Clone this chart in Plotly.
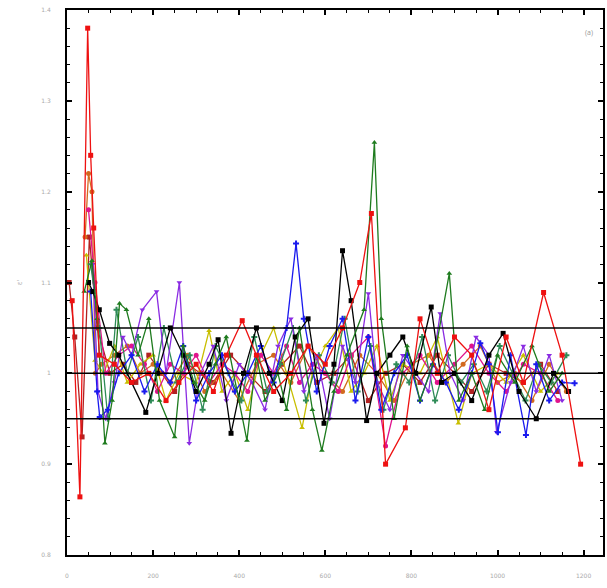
import plotly.graph_objects as go

# ---- data ----
red_x = [12, 30, 48, 55, 62, 75, 110, 150, 190, 230, 260, 300, 340, 370, 407, 440, 480, 520, 560, 600, 640, 680, 707, 740, 786, 820, 860, 900, 940, 980, 1020, 1060, 1107, 1150, 1193]
red_y = [1.08, 0.864, 1.38, 1.24, 1.16, 1.02, 1.01, 0.99, 1.0, 0.97, 0.99, 1.01, 0.98, 1.02, 1.058, 1.02, 0.98, 1.0, 1.03, 1.01, 1.05, 1.1, 1.176, 0.90, 0.94, 1.06, 1.0, 1.04, 1.02, 0.96, 1.04, 0.99, 1.089, 1.02, 0.90]

green_x = [40, 58, 70, 88, 105, 122, 138, 165, 190, 215, 250, 270, 295, 320, 345, 370, 418, 440, 460, 490, 510, 540, 570, 592, 620, 650, 690, 714, 730, 760, 790, 820, 850, 888, 910, 940, 970, 1000, 1040, 1080, 1120, 1150]
green_y = [1.09, 1.124, 1.06, 0.923, 0.97, 1.077, 1.07, 1.02, 1.06, 0.97, 0.93, 1.03, 0.99, 0.97, 1.01, 1.04, 0.926, 1.02, 0.97, 1.0, 0.96, 1.05, 0.96, 0.915, 0.98, 1.02, 1.07, 1.254, 1.06, 0.95, 1.03, 0.97, 1.01, 1.11, 0.97, 1.0, 0.96, 1.02, 0.99, 1.03, 0.98, 1.0]

black_x = [50, 60, 75, 99, 120, 150, 183, 210, 240, 270, 300, 330, 351, 381, 410, 440, 470, 500, 530, 560, 597, 620, 640, 660, 696, 720, 750, 780, 810, 846, 870, 900, 940, 980, 1013, 1050, 1090, 1130, 1165]
black_y = [1.10, 1.09, 1.07, 1.033, 1.02, 0.99, 0.957, 1.0, 1.05, 1.02, 0.98, 1.01, 1.037, 0.934, 1.0, 1.05, 1.0, 0.97, 1.04, 1.06, 0.945, 1.01, 1.135, 1.08, 0.948, 1.0, 1.02, 1.04, 1.0, 1.073, 0.99, 1.0, 0.97, 1.02, 1.044, 0.98, 0.95, 1.0, 0.98]

blue_x = [55, 70, 76, 95, 120, 150, 180, 210, 240, 270, 300, 330, 360, 390, 420, 450, 480, 510, 532, 550, 580, 610, 640, 670, 700, 730, 760, 790, 820, 850, 880, 910, 940, 960, 980, 1001, 1030, 1066, 1090, 1120, 1150, 1179]
blue_y = [1.09, 0.98, 0.952, 0.96, 1.0, 1.02, 0.98, 1.01, 0.99, 1.03, 0.97, 1.0, 1.02, 0.98, 1.0, 1.03, 0.99, 1.05, 1.143, 1.06, 0.98, 1.03, 1.06, 0.97, 1.04, 0.96, 1.0, 1.02, 0.97, 1.01, 0.99, 0.96, 1.0, 1.033, 1.01, 0.935, 1.02, 0.932, 1.01, 0.97, 0.99, 0.989]

purple_x = [60, 72, 90, 110, 130, 150, 175, 208, 230, 261, 284, 310, 340, 370, 400, 430, 460, 490, 520, 550, 580, 610, 640, 670, 700, 720, 750, 780, 810, 840, 867, 890, 920, 950, 980, 998, 1030, 1060, 1090, 1120, 1150]
purple_y = [1.12, 0.98, 0.95, 0.99, 1.04, 1.02, 1.07, 1.09, 1.0, 1.10, 0.923, 1.0, 1.03, 0.97, 1.01, 0.99, 0.96, 1.03, 1.06, 0.98, 1.02, 0.95, 1.03, 0.99, 1.088, 0.99, 0.96, 1.02, 1.0, 0.98, 1.066, 1.0, 0.97, 1.04, 1.02, 0.935, 0.99, 1.03, 0.98, 1.02, 0.97]

orange_x = [42, 50, 58, 66, 80, 110, 140, 170, 200, 240, 280, 320, 360, 400, 440, 480, 520, 560, 600, 640, 680, 720, 760, 800, 840, 880, 920, 960, 1000, 1040, 1080, 1120, 1160]
orange_y = [1.15, 1.22, 1.2, 1.0, 1.01, 1.02, 1.03, 1.0, 1.01, 0.99, 1.02, 0.98, 1.0, 0.97, 1.01, 1.02, 0.99, 1.03, 1.0, 0.98, 1.02, 1.0, 0.97, 1.01, 1.02, 0.99, 1.01, 1.03, 0.99, 1.0, 0.97, 1.01, 0.98]

yellow_x = [45, 65, 85, 110, 140, 170, 200, 230, 260, 300, 330, 360, 390, 420, 450, 480, 510, 546, 570, 600, 630, 660, 690, 720, 750, 780, 820, 860, 909, 940, 980, 1020, 1060, 1100, 1140]
yellow_y = [1.13, 1.014, 1.0, 1.03, 0.99, 1.01, 1.02, 0.97, 1.0, 0.99, 1.047, 0.98, 1.0, 0.96, 1.02, 1.05, 1.0, 0.94, 1.0, 1.03, 1.05, 0.98, 1.0, 1.03, 0.97, 1.01, 1.0, 1.04, 0.945, 1.0, 1.01, 0.99, 1.02, 0.98, 1.0]

magenta_x = [50, 65, 90, 120, 150, 180, 210, 240, 270, 300, 330, 360, 390, 420, 450, 480, 510, 540, 570, 600, 630, 660, 700, 740, 780, 820, 860, 900, 940, 980, 1020, 1060, 1100, 1140]
magenta_y = [1.18, 1.1, 1.0, 1.02, 1.03, 1.01, 0.98, 1.01, 1.0, 1.02, 0.99, 1.01, 1.0, 0.98, 1.02, 1.0, 1.03, 0.99, 1.01, 1.0, 0.98, 1.02, 1.04, 0.92, 1.0, 1.02, 0.99, 1.01, 1.03, 1.0, 0.98, 1.01, 1.0, 0.97]

brown_x = [5, 18, 35, 52, 70, 100, 130, 160, 190, 220, 250, 280, 310, 340, 380, 420, 460, 500, 540, 580, 620, 660, 700, 740, 780, 820, 860, 900, 940, 980, 1020, 1060, 1100, 1140]
brown_y = [1.1, 1.04, 0.93, 1.15, 1.05, 1.0, 1.01, 0.99, 1.02, 1.0, 0.98, 1.01, 1.0, 0.99, 1.02, 1.0, 0.98, 1.01, 1.03, 0.99, 1.0, 1.02, 0.97, 1.0, 1.01, 0.99, 1.02, 1.0, 0.98, 1.01, 1.0, 0.99, 1.01, 0.98]

teal_x = [55, 75, 95, 115, 140, 165, 195, 225, 255, 285, 315, 345, 375, 405, 435, 465, 495, 525, 555, 585, 615, 645, 675, 705, 735, 765, 795, 825, 855, 885, 915, 945, 975, 1005, 1035, 1065, 1095, 1125, 1160]
teal_y = [1.12, 1.05, 0.95, 1.07, 1.0, 1.04, 0.97, 1.05, 0.99, 1.02, 0.96, 1.03, 1.0, 0.97, 1.04, 0.98, 1.01, 1.05, 0.97, 1.02, 0.99, 1.06, 0.98, 1.03, 0.96, 1.01, 0.99, 1.04, 0.97, 1.02, 0.99, 1.01, 0.98, 1.03, 1.0, 0.97, 1.01, 0.99, 1.02]

ref_levels = [0.95, 1.0, 1.05]
x_ticks = [0, 200, 400, 600, 800, 1000, 1200]
y_ticks = [0.8, 0.9, 1.0, 1.1, 1.2, 1.3, 1.4]
y_ticklabels = ["0.8", "0.9", "1", "1.1", "1.2", "1.3", "1.4"]

series = [
    (brown_x, brown_y, "#b22222", "square"),
    (orange_x, orange_y, "#d2691e", "circle"),
    (yellow_x, yellow_y, "#c8be00", "triangle-up"),
    (magenta_x, magenta_y, "#e0148c", "circle"),
    (teal_x, teal_y, "#2e8b57", "cross"),
    (purple_x, purple_y, "#8a2be2", "triangle-down"),
    (blue_x, blue_y, "#1a1aee", "cross"),
    (black_x, black_y, "#000000", "square"),
    (green_x, green_y, "#1e7b1e", "triangle-up"),
    (red_x, red_y, "#ee1111", "square"),
]

fig = go.Figure()
for xs, ys, col, sym in series:
    fig.add_trace(go.Scatter(x=xs, y=ys, mode="lines+markers",
                             line=dict(color=col, width=1.3),
                             marker=dict(color=col, symbol=sym, size=5),
                             showlegend=False))

for lv in ref_levels:
    fig.add_shape(type="line", xref="paper", x0=0, x1=1, yref="y", y0=lv, y1=lv,
                  line=dict(color="black", width=1.5), layer="above")

fig.add_annotation(text="(a)", xref="paper", yref="paper", x=0.985, y=0.97,
                   showarrow=False, font=dict(size=7, color="#999"), xanchor="right")

axis_common = dict(showline=True, linecolor="black", linewidth=2, mirror="allticks",
                   ticks="inside", ticklen=5, tickwidth=1.5, tickcolor="black",
                   showgrid=False, zeroline=False,
                   tickfont=dict(size=6, color="#aaaaaa", family="DejaVu Sans"))

fig.update_xaxes(range=[0, 1245], tickvals=x_ticks, ticklabelstandoff=14,
                 minor=dict(dtick=50, ticks="inside", ticklen=3, tickcolor="black", tickwidth=1),
                 **axis_common)
fig.update_yaxes(range=[0.8, 1.4], tickvals=y_ticks, ticktext=y_ticklabels, ticklabelstandoff=13,
                 minor=dict(dtick=0.02, ticks="inside", ticklen=3, tickcolor="black", tickwidth=1),
                 title=dict(text="ε'", font=dict(size=7, color="#aaaaaa"), standoff=18),
                 **axis_common)

fig.update_layout(width=607, height=588, margin=dict(l=67, r=2, t=10, b=33),
                  plot_bgcolor="white", paper_bgcolor="white")

fig.write_html("out.html")
